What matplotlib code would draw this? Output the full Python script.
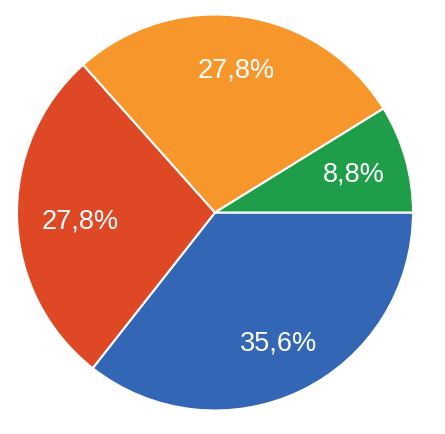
import matplotlib.pyplot as plt

# slices in clockwise order starting at 3 o'clock
shares = [35.6, 27.8, 27.8, 8.8]
colors = ["#3367b5", "#df4825", "#f6962b", "#1f9e49"]

fig = plt.figure(figsize=(4.45, 4.35), dpi=100)
ax = fig.add_axes([0, 0, 1, 1])

r = 198 / 100
cx, cy = 2.15, 4.35 - 2.135

wedges, texts, autotexts = ax.pie(
    shares,
    colors=colors,
    startangle=0,
    counterclock=False,
    radius=r,
    center=(cx, cy),
    autopct=lambda p: f"{p:.1f}%".replace(".", ","),
    pctdistance=0.73,
    wedgeprops=dict(edgecolor="white", linewidth=1.5),
    textprops=dict(color="white", fontsize=19.5, family="Liberation Sans"),
    frame=True,
)
# red label sits a bit closer to the centre in the original
x, y = autotexts[1].get_position()
autotexts[1].set_position((x + 0.1, y - 0.03))

ax.set_xlim(0, 4.45)
ax.set_ylim(0, 4.35)
ax.set_aspect("equal")
ax.axis("off")

fig.savefig("out.png", dpi=100)
